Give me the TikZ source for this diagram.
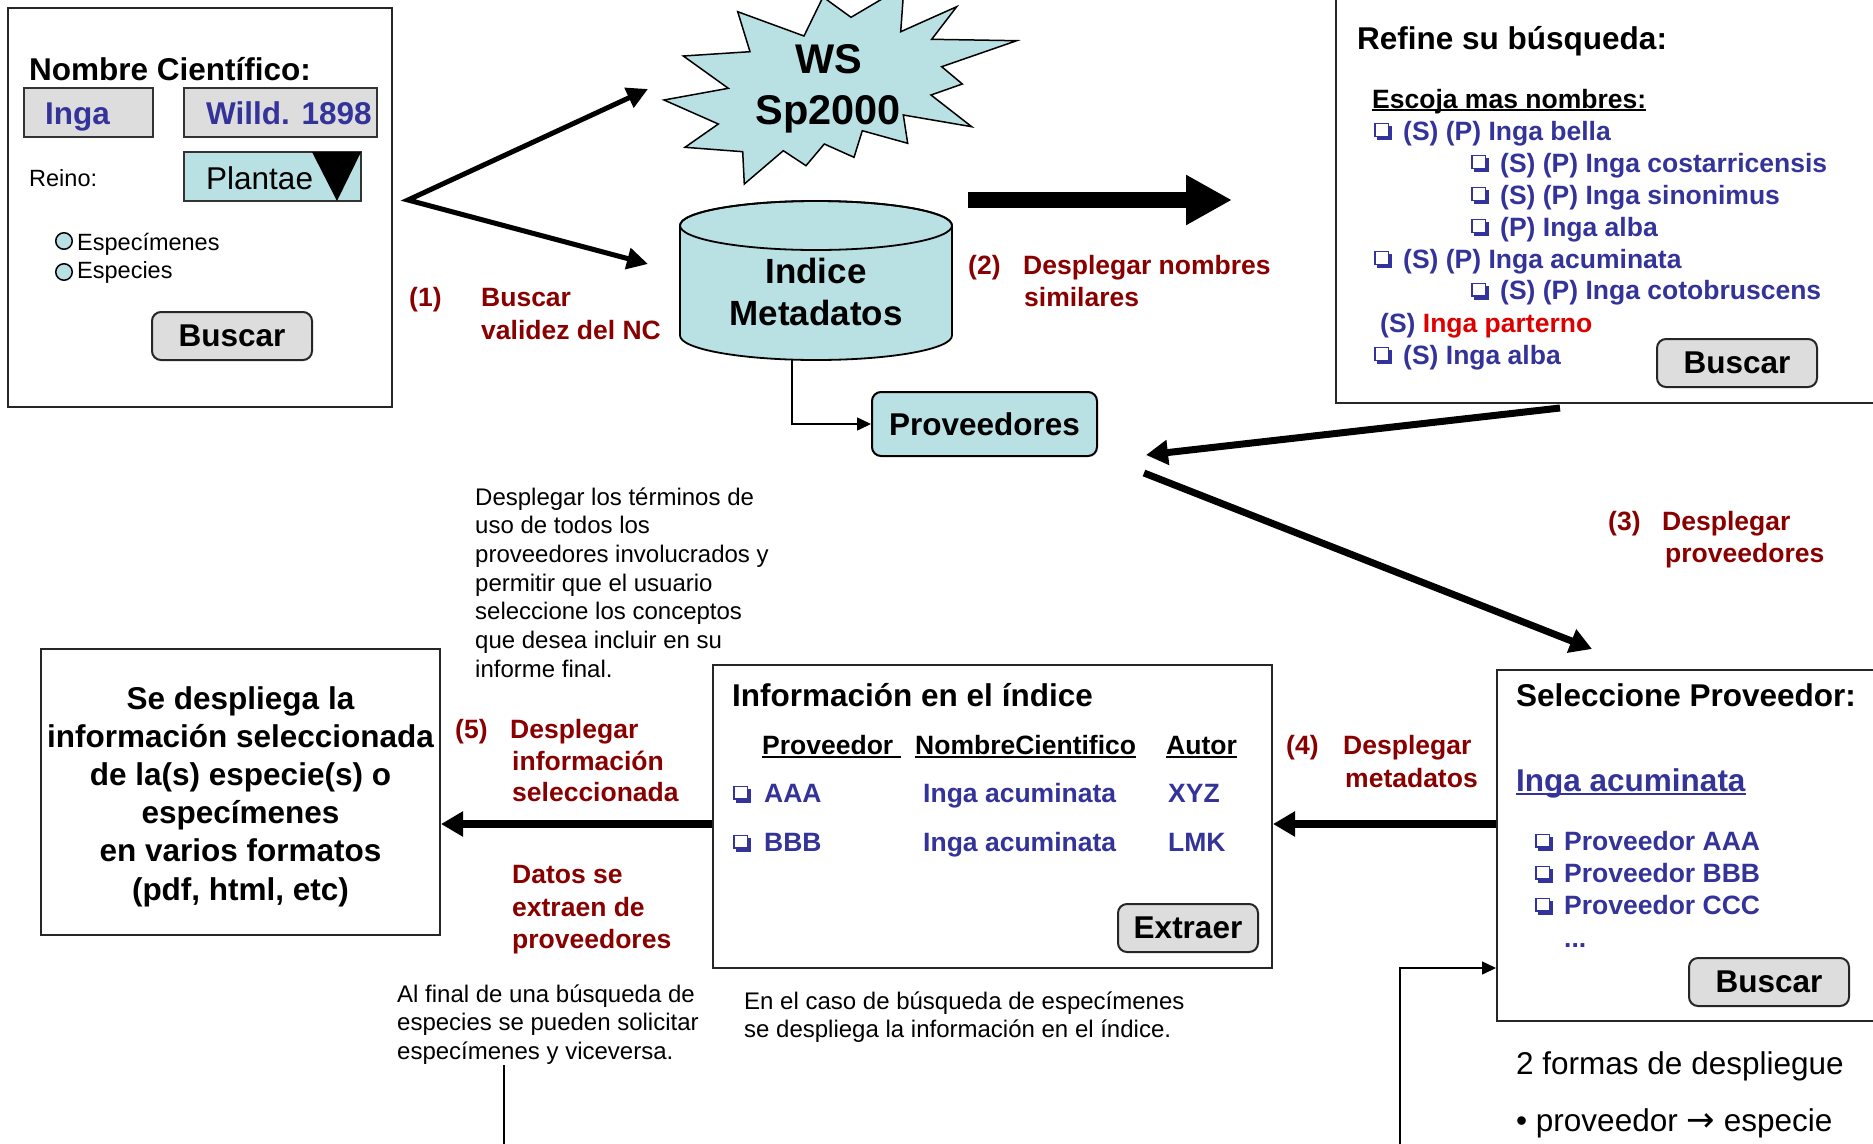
\documentclass[tikz,border=0pt]{standalone}
\usepackage{fontspec}
\setmainfont{Liberation Sans}
\newfontfamily\dvs{DejaVu Sans}
\usetikzlibrary{arrows.meta}
\definecolor{cyanf}{HTML}{B9E0E3}
\definecolor{btng}{HTML}{DDDDDD}
\definecolor{navy}{HTML}{333399}
\definecolor{dred}{HTML}{880000}
\definecolor{bred}{HTML}{DD0000}
\newcommand\fsz[1]{\fontsize{#1}{#1}\selectfont}
\newcommand\cbx{\begin{picture}(18,17)\put(0,3){\rule{15pt}{1.3pt}}\put(0,15.7){\rule{15pt}{1.3pt}}\put(0,3){\rule{1.3pt}{14pt}}\put(13.7,3){\rule{1.3pt}{14pt}}\put(3,0){\rule{15pt}{3.2pt}}\put(14.8,0){\rule{3.2pt}{14pt}}\end{picture}}
\newcommand\uln[1]{\setbox0\hbox{#1}\rlap{\rule[-0.12em]{\wd0}{0.075em}}\box0}
\begin{document}
\begin{tikzpicture}[x=1pt,y=-1pt,
  box/.style={draw=black!85, line width=2pt, fill=white, inner sep=0pt},
  fld/.style={draw=black!80, line width=2pt, inner sep=0pt},
  btn/.style={draw=black!85, line width=2pt, rounded corners=9pt, fill=btng, inner sep=0pt, font=\bfseries\fsz{31.5}},
  txt/.style={anchor=base west, inner sep=0pt},
  bigf/.style={font=\bfseries\fsz{31.5}},
  labf/.style={font=\bfseries\fsz{26.5}, text=dred},
  lstf/.style={font=\bfseries\fsz{26.5}, text=navy},
  regf/.style={font=\fsz{24}},
  vee/.style={line width=5pt, line join=miter, {Triangle[length=21pt,width=21pt]}-{Triangle[length=21pt,width=21pt]}},
  slant/.style={line width=7pt, -{Triangle[length=22pt,width=24pt]}},
  flat/.style={line width=8pt, -{Triangle[length=22pt,width=24pt]}},
  fat/.style={line width=16pt, -{Triangle[length=46pt,width=47pt]}},
  thinarr/.style={line width=1.5pt, -{Triangle[length=14pt,width=13pt]}}
]
\useasboundingbox (0,0) rectangle (1873,1143);
\clip (0,0) rectangle (1873,1143);

% ---------- search form ----------
\node[box, minimum width=384pt, minimum height=399pt] (srch) at (200,207.5) {};
\node[txt, bigf] (nc) at (29,80) {Nombre Científico:};
\node[fld, fill=btng, minimum width=129pt, minimum height=49pt] (ingab) at (88.5,112.5) {};
\node[txt, bigf, text=navy] (ingat) at (45,124) {Inga};
\node[fld, fill=btng, minimum width=193pt, minimum height=49pt] (willdb) at (280.5,112.5) {};
\node[txt, bigf, text=navy] (willdt) at (206,124) {Willd. 1898};
\node[txt, font=\fsz{23.5}] (reino) at (29,186) {Reino:};
\node[fld, fill=cyanf, minimum width=177pt, minimum height=49pt] (plantb) at (272.5,176.5) {};
\fill (312,152) -- (361,152) -- (337,201) -- cycle;
\node[txt, font=\fsz{31.5}] (plantt) at (206,189) {Plantae};
\node[circle, draw, line width=1.5pt, fill=cyanf, minimum size=16.5pt, inner sep=0pt] (r1) at (64,241) {};
\node[circle, draw, line width=1.5pt, fill=cyanf, minimum size=16.5pt, inner sep=0pt] (r2) at (64,272) {};
\node[txt, font=\fsz{23.5}] (esp1) at (77,250) {Especímenes};
\node[txt, font=\fsz{23.5}] (esp2) at (77,278) {Especies};
\node[btn, minimum width=160pt, minimum height=48pt] (b1) at (232,336) {Buscar};

% ---------- WS star ----------
\draw[fill=cyanf, line width=1.5pt, line join=miter]
 (737.7,11.7) -- (804,36) -- (823,-3) -- (851,17.3) -- (904,-14) -- (900.7,31.7) -- (956.7,6.7) -- (931.7,39.3) -- (1016.7,40.7) -- (941.7,66.7) -- (962.3,84) -- (931,95) -- (971.7,126.7) -- (903.3,115) -- (907.7,143.3) -- (862.3,130.7) -- (854,157.3) -- (824.3,144) -- (806,165.7) -- (783.3,150.7) -- (744.3,184) -- (742.7,151.7) -- (685,147.3) -- (718.3,124) -- (664,100) -- (728.3,88.3) -- (683.3,56) -- (750,51.7) -- cycle;
\node[txt, anchor=base, font=\bfseries\fsz{41.5}] (ws1) at (829,73) {WS};
\node[txt, anchor=base, font=\bfseries\fsz{41.5}] (ws2) at (828,124) {Sp2000};

% ---------- cylinder ----------
\path[fill=cyanf, draw, line width=1.8pt] (680,225.5) -- (680,335.5)
  arc[start angle=180, end angle=360, x radius=136pt, y radius=24.5pt] -- (952,225.5)
  arc[start angle=0, end angle=180, x radius=136pt, y radius=24.5pt] -- cycle;
\draw[line width=1.8pt] (816,225.5) ellipse[x radius=136pt, y radius=24.5pt];
\node[txt, anchor=base, font=\bfseries\fsz{35}] (idx1) at (816,283.5) {Indice};
\node[txt, anchor=base, font=\bfseries\fsz{35}] (idx2) at (816,325.5) {Metadatos};
\coordinate (cylb) at (792,360);

\node[draw, line width=2pt, rounded corners=9pt, fill=cyanf, inner sep=0pt, minimum width=225pt, minimum height=64pt, bigf] (prov) at (984.5,424) {Proveedores};
\draw[thinarr] (cylb) |- (prov.west);

% ---------- arrows (1) ----------
\coordinate (s1) at (408,200);
\coordinate (e1a) at (648,89);
\coordinate (e1b) at (648,264);
\draw[vee] (e1a) -- (s1) -- (e1b);
\node[txt, labf] (n1) at (409,306.5) {(1)};
\node[txt, labf] (n1a) at (481,306.5) {Buscar};
\node[txt, labf] (n1b) at (481,339.5) {validez del NC};

% ---------- arrow (2) ----------
\coordinate (b2s) at (968,200);
\coordinate (b2e) at (1232,200);
\draw[fat] (b2s) -- (b2e);
\node[txt, labf] (n2) at (968,274.5) {(2)};
\node[txt, labf] (n2a) at (1023,274.5) {Desplegar nombres};
\node[txt, labf] (n2b) at (1024,306.5) {similares};

% ---------- refine box ----------
\node[box, minimum width=544pt, minimum height=408pt] (refine) at (1608,199) {};
\node[txt, bigf] (rf) at (1357,49.5) {Refine su búsqueda:};
\node[txt, font=\bfseries\fsz{26.5}] (esc) at (1372,108) {\uln{Escoja mas nombres:}};
\node[txt, text=navy] (c1) at (1374,140) {\cbx};
\node[txt, lstf] (l1) at (1403,140) {(S) (P) Inga bella};
\node[txt, text=navy] (c2) at (1471,172) {\cbx};
\node[txt, lstf] (l2) at (1500,172) {(S) (P) Inga costarricensis};
\node[txt, text=navy] (c3) at (1471,204) {\cbx};
\node[txt, lstf] (l3) at (1500,204) {(S) (P) Inga sinonimus};
\node[txt, text=navy] (c4) at (1471,236) {\cbx};
\node[txt, lstf] (l4) at (1500,236) {(P) Inga alba};
\node[txt, text=navy] (c5) at (1374,268) {\cbx};
\node[txt, lstf] (l5) at (1403,268) {(S) (P) Inga acuminata};
\node[txt, text=navy] (c6) at (1471,299.5) {\cbx};
\node[txt, lstf] (l6) at (1500,299.5) {(S) (P) Inga cotobruscens};
\node[txt, lstf] (l7) at (1380,332) {(S) \textcolor{bred}{Inga parterno}};
\node[txt, text=navy] (c8) at (1374,364) {\cbx};
\node[txt, lstf] (l8) at (1403,364) {(S) Inga alba};
\node[btn, minimum width=160pt, minimum height=48pt] (b2) at (1737,363) {Buscar};

% ---------- arrows (3) ----------
\coordinate (r1s) at (1560,408);
\coordinate (r1e) at (1146,455);
\draw[slant] (r1s) -- (r1e);
\coordinate (r2s) at (1144,473);
\coordinate (r2e) at (1592,649);
\draw[slant] (r2s) -- (r2e);
\node[txt, labf] (n3) at (1608,530.5) {(3)};
\node[txt, labf] (n3a) at (1662,530.5) {Desplegar};
\node[txt, labf] (n3b) at (1665,562.5) {proveedores};

% ---------- note paragraph ----------
\foreach \ln [count=\i from 0] in {Desplegar los términos de, uso de todos los, proveedores involucrados y, permitir que el usuario, seleccione los conceptos, que desea incluir en su, informe final.}
  \node[txt, regf] (p\i) at (475,505+28.7*\i) {\ln};

% ---------- result box ----------
\node[box, minimum width=399pt, minimum height=286pt] (res) at (240.5,792) {};
\foreach \ln [count=\i from 0] in {Se despliega la, información seleccionada, de la(s) especie(s) o, especímenes, en varios formatos, {(pdf, html, etc)}}
  \node[txt, anchor=base, bigf] (rs\i) at (240.5,709+38.2*\i) {\ln};

% ---------- info box ----------
\node[box, minimum width=559pt, minimum height=303pt] (info) at (992.5,816.5) {};
\node[txt, bigf] (it) at (732,706) {Información en el índice};
\node[txt, font=\bfseries\fsz{26.5}] (h1) at (762,754.5) {\uln{Proveedor\ }};
\node[txt, font=\bfseries\fsz{26.5}] (h2) at (915,754.5) {\uln{NombreCientifico}};
\node[txt, font=\bfseries\fsz{26.5}] (h3) at (1166,754.5) {\uln{Autor}};
\node[txt, text=navy] (ca) at (733,802.5) {\cbx};
\node[txt, lstf] (ra1) at (764,802.5) {AAA};
\node[txt, lstf] (ra2) at (923,802.5) {Inga acuminata};
\node[txt, lstf] (ra3) at (1168,802.5) {XYZ};
\node[txt, text=navy] (cb) at (733,851.5) {\cbx};
\node[txt, lstf] (rb1) at (764,851.5) {BBB};
\node[txt, lstf] (rb2) at (923,851.5) {Inga acuminata};
\node[txt, lstf] (rb3) at (1168,851.5) {LMK};
\node[btn, minimum width=140pt, minimum height=48pt] (b3) at (1188,928) {Extraer};

% ---------- selection box ----------
\node[box, minimum width=383pt, minimum height=351pt] (sel) at (1688.5,845.5) {};
\node[txt, bigf] (st) at (1516,706) {Seleccione Proveedor:};
\node[txt, bigf, text=navy] (sia) at (1516,791.5) {\uln{Inga acuminata}};
\node[txt, text=navy] (cs1) at (1535,850.5) {\cbx};
\node[txt, lstf] (sp1) at (1564,850.5) {Proveedor AAA};
\node[txt, text=navy] (cs2) at (1535,882.5) {\cbx};
\node[txt, lstf] (sp2) at (1564,882.5) {Proveedor BBB};
\node[txt, text=navy] (cs3) at (1535,914.5) {\cbx};
\node[txt, lstf] (sp3) at (1564,914.5) {Proveedor CCC};
\node[txt, lstf] (sp4) at (1564,947) {...};
\node[btn, minimum width=160pt, minimum height=48pt] (b4) at (1769,982) {Buscar};

% ---------- arrows (4) (5) ----------
\coordinate (a4) at ([yshift=-7.5pt]info.east);
\draw[flat] (a4 -| sel.west) -- (a4);
\node[txt, labf] (n4) at (1286,754.5) {(4)};
\node[txt, labf] (n4a) at (1343,754.5) {Desplegar};
\node[txt, labf] (n4b) at (1345,787.5) {metadatos};

\coordinate (a5) at ([yshift=-7.5pt]info.west);
\draw[flat] (a5) -- (a5 -| res.east);
\node[txt, labf] (n5) at (455,738.5) {(5)};
\node[txt, labf] (n5a) at (510,738.5) {Desplegar};
\node[txt, labf] (n5b) at (512,770.5) {información};
\node[txt, labf] (n5c) at (512,801.5) {seleccionada};
\node[txt, labf] (d1) at (512,883.5) {Datos se};
\node[txt, labf] (d2) at (512,916.5) {extraen de};
\node[txt, labf] (d3) at (512,948.5) {proveedores};

% ---------- bottom notes ----------
\foreach \ln [count=\i from 0] in {Al final de una búsqueda de, especies se pueden solicitar, especímenes y viceversa.}
  \node[txt, regf] (af\i) at (397,1002+28.7*\i) {\ln};
\coordinate (alb) at (504,1065);
\coordinate (ale) at (504,1150);
\draw[line width=1.5pt] (alb) -- (ale);

\node[txt, regf] (ec1) at (744,1009) {En el caso de búsqueda de especímenes};
\node[txt, regf] (ec2) at (744,1037.7) {se despliega la información en el índice.};

\node[txt, font=\fsz{31.5}] (fm1) at (1516,1074) {2 formas de despliegue};
\node[txt, font=\fsz{31.5}] (fm2) at (1516,1131) {• proveedor {\dvs\fsz{34}→} especie};

\coordinate (sc0) at (1400,1150);
\coordinate (sc1) at (sel.west |- 0,968);
\draw[thinarr] (sc0) |- (sc1);
\end{tikzpicture}
\end{document}
